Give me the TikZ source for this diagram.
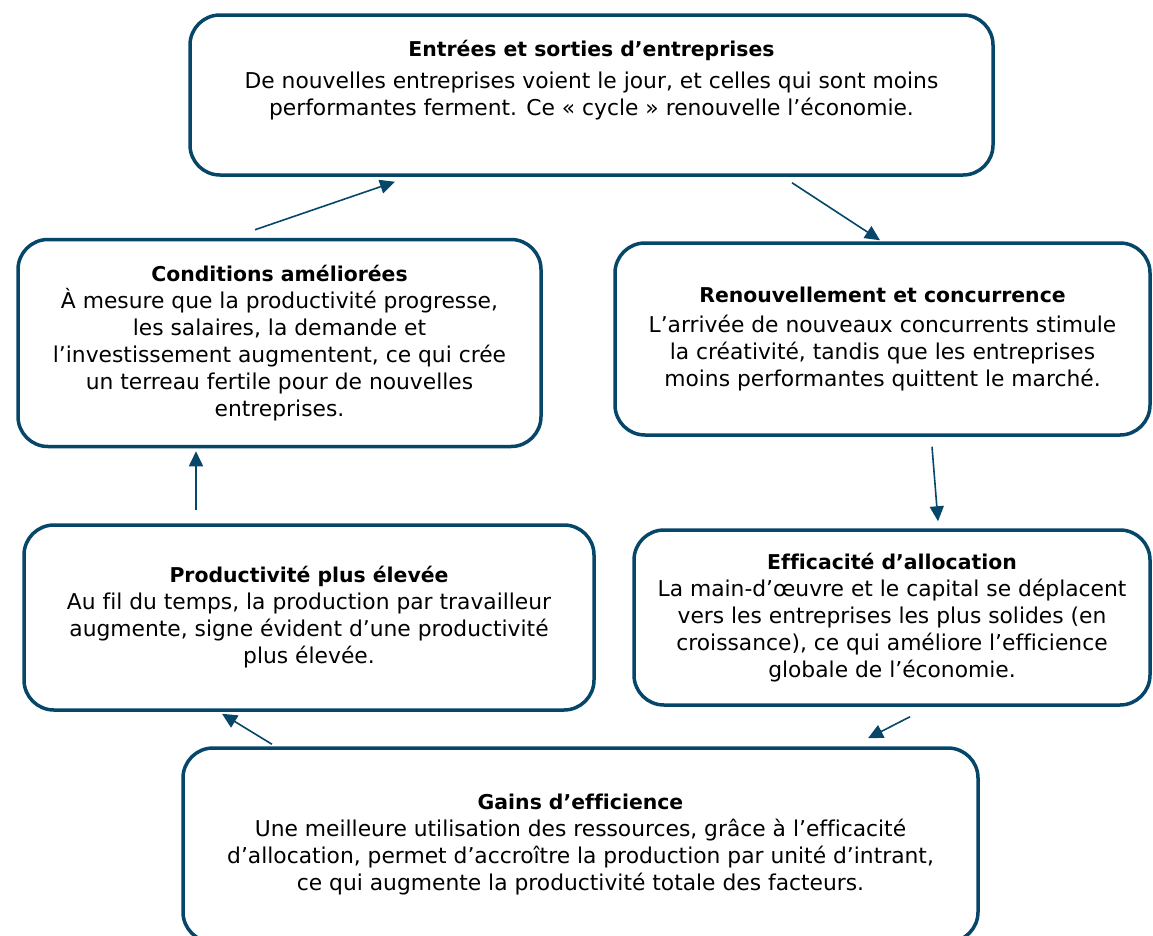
\documentclass[tikz,border=0pt]{standalone}
\usepackage{fontspec}
\setmainfont[Ligatures=CommonOff]{DejaVu Sans}
\usepackage{tikz}
\usetikzlibrary{arrows.meta}
\definecolor{cycleblue}{RGB}{6,70,104}
\newcommand\titre[1]{{\fontsize{20.4}{27}\selectfont\bfseries #1}}
\tikzset{
	etape/.style={draw=cycleblue, line width=3.5pt, rounded corners=30pt, align=center, inner sep=0pt, font=\fontsize{21.8}{27}\selectfont},
	fleche/.style={cycleblue, line width=1.6pt, -{Triangle[length=15pt,width=14pt]}}
}

\begin{document}
\begin{tikzpicture}[x=1pt,y=-1pt]
		%%%%% START %%%%%
		
		\useasboundingbox (0,0) rectangle (1153,935);
		
		\node[etape, minimum width=803pt, minimum height=160pt] (entree) at (591.5,95)
			{\titre{Entrées et sorties d’entreprises}\\[5pt]
			De nouvelles entreprises voient le jour, et celles qui sont moins\\
			performantes ferment. Ce « cycle » renouvelle l’économie.\\[7pt]\mbox{}};
		
		\node[etape, minimum width=523pt, minimum height=207pt] (cond) at (279.5,343)
			{\titre{Conditions améliorées}\\
			À mesure que la productivité progresse,\\
			les salaires, la demande et\\
			l’investissement augmentent, ce qui crée\\
			un terreau fertile pour de nouvelles\\
			entreprises.};
		
		\node[etape, minimum width=535pt, minimum height=192pt] (renouv) at (882.5,339)
			{\titre{Renouvellement et concurrence}\\[3pt]
			L’arrivée de nouveaux concurrents stimule\\
			la créativité, tandis que les entreprises\\
			moins performantes quittent le marché.};
		
		\node[etape, minimum width=570pt, minimum height=185pt] (prod) at (309,617.5)
			{\titre{Productivité plus élevée}\\
			Au fil du temps, la production par travailleur\\
			augmente, signe évident d’une productivité\\
			plus élevée.};
		
		\node[etape, minimum width=516pt, minimum height=175pt] (alloc) at (892,617.5)
			{\titre{Efficacité d’allocation}\\
			La main-d’œuvre et le capital se déplacent\\
			vers les entreprises les plus solides (en\\
			croissance), ce qui améliore l’efficience\\
			globale de l’économie.};
		
		\node[etape, minimum width=795pt, minimum height=194pt] (gains) at (580.5,845)
			{\titre{Gains d’efficience}\\
			Une meilleure utilisation des ressources, grâce à l’efficacité\\
			d’allocation, permet d’accroître la production par unité d’intrant,\\
			ce qui augmente la productivité totale des facteurs.};
		
		% fleches du cycle
		\draw[fleche] ([shift={(-24.5,-8)}]cond.north) -- ([shift={(-196.5,5)}]entree.south);
		\draw[fleche] ([shift={(200.5,6)}]entree.south) -- ([shift={(-2.5,-1)}]renouv.north);
		\draw[fleche] ([shift={(49.5,10)}]renouv.south) -- ([shift={(46,-7)}]alloc.north);
		\draw[fleche] ([shift={(18,10)}]alloc.south) -- ([shift={(287.5,-8)}]gains.north);
		\draw[fleche] ([shift={(-308.5,-2)}]gains.north) -- ([shift={(-87,2)}]prod.south);
		\draw[fleche] ([shift={(-113,-13)}]prod.north) -- ([shift={(-83.5,3)}]cond.south);
		
		%%%%% END %%%%%
\end{tikzpicture}
\end{document}
